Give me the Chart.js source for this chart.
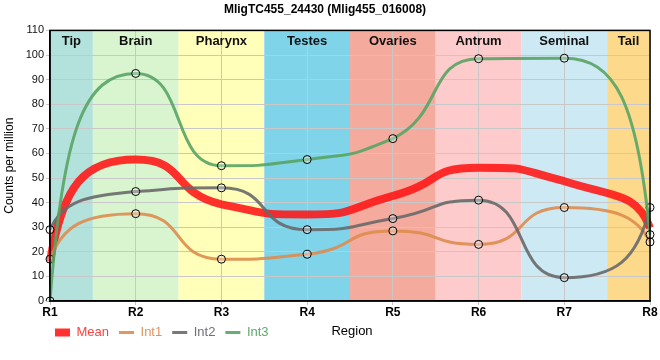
<!DOCTYPE html>
<html>
<head>
<meta charset="utf-8">
<script src="https://cdn.jsdelivr.net/npm/chart.js@4/dist/chart.umd.min.js"></script>
<style>
  html, body { margin: 0; padding: 0; background: #fff; }
  #wrap { width: 660px; height: 360px; }
</style>
</head>
<body>
<div id="wrap"><canvas id="myChart" width="660" height="360"></canvas></div>
<script>
const labels = ["R1", "R2", "R3", "R4", "R5", "R6", "R7", "R8"];
const meanVals = [16, 57.5, 39.3, 35.2, 42.7, 54.2, 48.7, 29.7];
const int1Vals = [17, 35.5, 17, 19, 28.5, 23, 38, 24];
const int2Vals = [29, 44.5, 46, 29, 33.5, 41, 9.5, 38];
const int3Vals = [0, 92.5, 55, 57.5, 66, 98.5, 98.7, 27];
const bandNames = ["Tip", "Brain", "Pharynx", "Testes", "Ovaries", "Antrum", "Seminal", "Tail"];
const bandColors = ["#b3e2dd", "#d8f5cf", "#ffffba", "#7fd4ea", "#f4aa9c", "#fdcbcb", "#cdeaf4", "#fcd98b"];

const FONT = "'Liberation Sans', Arial, sans-serif";

// coloured tissue bands behind the grid, names on top
const bandPlugin = {
  id: 'bands',
  afterLayout(chart) {
    // legend sits a bit higher and further left than chart.js puts it
    chart.legend.top -= 5;
    chart.legend.bottom -= 5;
    chart.legend.left -= 5;
    chart.legend.right -= 5;
  },
  beforeDraw(chart) {
    const ctx = chart.ctx, area = chart.chartArea, xs = chart.scales.x;
    ctx.save();
    for (let i = 0; i < bandNames.length; i++) {
      let x0 = Math.max(area.left, xs.getPixelForValue(i - 0.5));
      let x1 = Math.min(area.right, xs.getPixelForValue(i + 0.5));
      ctx.fillStyle = bandColors[i];
      ctx.fillRect(x0, area.top, x1 - x0, area.bottom - area.top);
    }
    ctx.restore();
  },
  afterDatasetsDraw(chart) {
    const ctx = chart.ctx, area = chart.chartArea, xs = chart.scales.x;
    ctx.save();
    ctx.font = "bold 13px " + FONT;
    ctx.fillStyle = "#111";
    ctx.textAlign = "center";
    ctx.textBaseline = "middle";
    for (let i = 0; i < bandNames.length; i++) {
      let x0 = Math.max(area.left, xs.getPixelForValue(i - 0.5));
      let x1 = Math.min(area.right, xs.getPixelForValue(i + 0.5));
      ctx.fillText(bandNames[i], (x0 + x1) / 2, area.top + 11);
    }
    // frame
    ctx.strokeStyle = "#000";
    ctx.lineWidth = 1.5;
    ctx.strokeRect(area.left, area.top, area.right - area.left, area.bottom - area.top);
    // x axis title sits in the legend row
    ctx.font = "13px " + FONT;
    ctx.fillStyle = "#000";
    ctx.fillText("Region", (area.left + area.right) / 2 + 2, 331);
    ctx.restore();
  }
};

// reshape the curve: flat handles at the points, steep in between
function clamp(v, a, b) {
  return Math.min(Math.max(v, Math.min(a, b)), Math.max(a, b));
}
const smoothPlugin = {
  id: 'smooth',
  beforeDatasetsDraw(chart) {
    chart.data.datasets.forEach((d, di) => {
      const meta = chart.getDatasetMeta(di);
      const pts = meta.data;
      const n = pts.length;
      meta.dataset.updateControlPoints(chart.chartArea, 'x');
      let s = [];
      for (let k = 0; k < n - 1; k++) s.push((pts[k + 1].y - pts[k].y) / (pts[k + 1].x - pts[k].x));
      let m = [];
      for (let i = 0; i < n; i++) {
        if (i == 0 || i == n - 1) { m.push(0); continue; }
        let a = s[i - 1], b = s[i];
        if (a * b <= 0) m.push(0);
        else m.push(Math.sign(a) * Math.min(2 * Math.abs(a), 2 * Math.abs(b), Math.abs((a + b) / 2)));
      }
      for (let i = 0; i < n; i++) {
        let p = pts[i];
        if (i > 0) {
          let q = pts[i - 1], h = p.x - q.x;
          if (i == n - 1) { p.cp1x = p.x - 0.15 * h; p.cp1y = p.y + 0.75 * (q.y - p.y); }
          else { p.cp1x = p.x - 0.6 * h; p.cp1y = clamp(p.y - m[i] * 0.6 * h, q.y, p.y); }
        }
        if (i < n - 1) {
          let q = pts[i + 1], h = q.x - p.x;
          if (i == 0) { p.cp2x = p.x + 0.15 * h; p.cp2y = p.y + 0.75 * (q.y - p.y); }
          else { p.cp2x = p.x + 0.6 * h; p.cp2y = clamp(p.y + m[i] * 0.6 * h, p.y, q.y); }
        }
      }
    });
  }
};

function lineSet(label, vals, color, width, pts) {
  return {
    label: label,
    data: vals,
    borderColor: color,
    backgroundColor: color,
    borderWidth: width,
    cubicInterpolationMode: 'monotone',
    pointRadius: pts ? 4 : 0,
    pointBackgroundColor: 'rgba(255,255,255,0.3)',
    pointBorderColor: '#000',
    pointBorderWidth: 1,
    fill: false
  };
}

const data = {
  labels: labels,
  datasets: [
    lineSet("Mean", meanVals, 'rgba(255,20,20,0.88)', 8, false),
    lineSet("Int1", int1Vals, 'rgba(222,140,78,0.9)', 3, true),
    lineSet("Int2", int2Vals, 'rgba(105,105,105,0.9)', 3, true),
    lineSet("Int3", int3Vals, 'rgba(88,164,100,0.9)', 3, true)
  ]
};
// points on top of the thick mean line
data.datasets.forEach((d, i) => d.order = i == 0 ? 10 : 4 - i);

const legendColors = ['#ff4040', '#e0955e', '#6f6f78', '#62a872'];

const config = {
  type: 'line',
  data: data,
  plugins: [bandPlugin, smoothPlugin],
  options: {
    responsive: false,
    animation: false,
    layout: { padding: { left: 0, right: 10, top: 0, bottom: 6 } },
    plugins: {
      title: {
        display: true,
        text: 'MligTC455_24430 (Mlig455_016008)',
        font: { family: FONT, size: 12, weight: 'bold' },
        color: '#000',
        padding: { top: 2, bottom: 14 }
      },
      legend: {
        position: 'bottom',
        align: 'start',
        fullSize: false,
        labels: {
          font: { family: FONT, size: 13 },
          padding: 10,
          usePointStyle: true,
          boxHeight: 8,
          pointStyleWidth: 15,
          generateLabels(chart) {
            return chart.data.datasets.map((d, i) => ({
              text: d.label,
              fillStyle: d.borderColor,
              strokeStyle: d.borderColor,
              lineWidth: i == 0 ? 0 : 3,
              pointStyle: i == 0 ? 'rect' : 'line',
              fontColor: legendColors[i],
              hidden: false,
              datasetIndex: i
            }));
          }
        }
      },
      tooltip: { enabled: false }
    },
    scales: {
      x: {
        offset: false,
        grid: { color: '#c8c8c8', drawTicks: true, tickLength: 4 },
        border: { color: '#000', width: 1.5 },
        ticks: { font: { family: FONT, size: 12, weight: 'bold' }, color: '#000', padding: 0, maxRotation: 0 },
        afterFit(s) { s.height = 20; }
      },
      y: {
        min: 0,
        max: 110,
        ticks: { stepSize: 10, font: { family: FONT, size: 11 }, color: '#111', padding: 2 },
        grid: { color: '#c8c8c8', tickLength: 4 },
        border: { color: '#000', width: 1.5 },
        title: { display: true, text: 'Counts per million', font: { family: FONT, size: 12 }, color: '#000', padding: 2 },
        afterFit(s) { s.width = 50; }
      }
    }
  }
};

const myChart = new Chart(document.getElementById('myChart'), config);
</script>
</body>
</html>
